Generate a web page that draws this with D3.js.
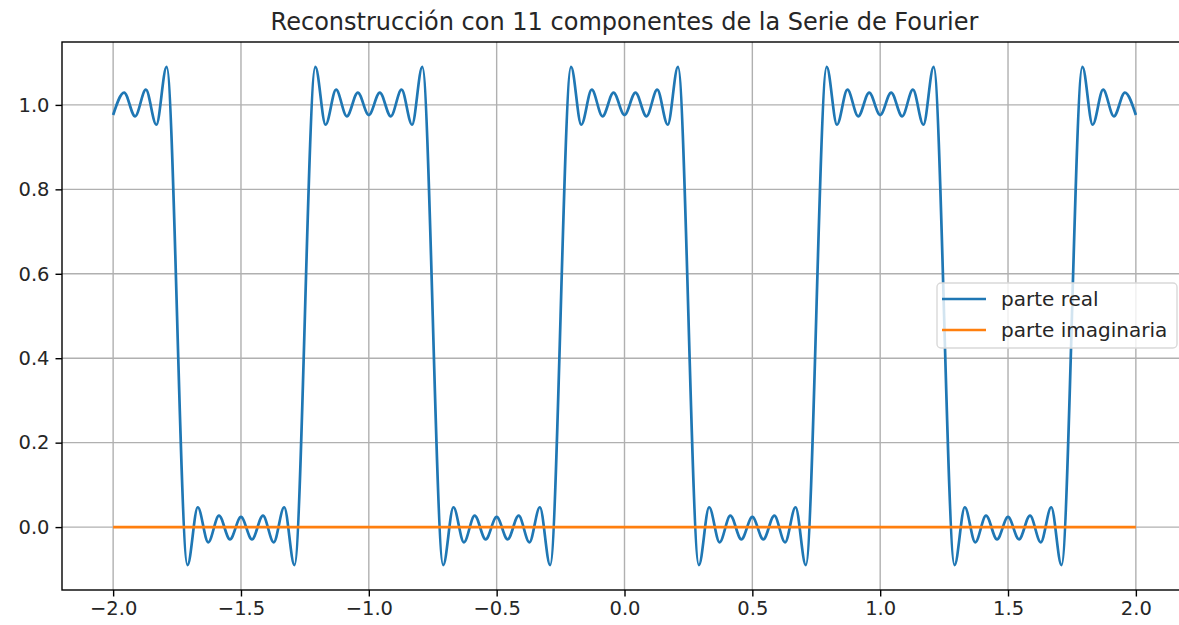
<!DOCTYPE html>
<html>
<head>
<meta charset="utf-8">
<script src="https://cdnjs.cloudflare.com/ajax/libs/d3/7.8.5/d3.min.js"></script>
<style>
  body { margin: 0; background: #fff; }
  text { font-family: "DejaVu Sans", sans-serif; fill: #262626; }
</style>
</head>
<body>
<div id="chart"></div>
<script>
var w = 1179, h = 625;

var title = "Reconstrucción con 11 componentes de la Serie de Fourier";
var seriesNames = ["parte real", "parte imaginaria"];
var xTicks = [-2.0, -1.5, -1.0, -0.5, 0.0, 0.5, 1.0, 1.5, 2.0];
var yTicks = [0.0, 0.2, 0.4, 0.6, 0.8, 1.0];

// turning points of the real part
var realX = [
  -2.000, -1.957, -1.914, -1.872, -1.831, -1.791,
  -1.709, -1.669, -1.628, -1.586, -1.543, -1.500, -1.457, -1.414, -1.372, -1.331, -1.291,
  -1.209, -1.169, -1.128, -1.086, -1.043, -1.000, -0.957, -0.914, -0.872, -0.831, -0.791,
  -0.709, -0.669, -0.628, -0.586, -0.543, -0.500, -0.457, -0.414, -0.372, -0.331, -0.291,
  -0.209, -0.169, -0.128, -0.086, -0.043, 0.000, 0.043, 0.086, 0.128, 0.169, 0.209,
  0.291, 0.331, 0.372, 0.414, 0.457, 0.500, 0.543, 0.586, 0.628, 0.669, 0.709,
  0.791, 0.831, 0.872, 0.914, 0.957, 1.000, 1.043, 1.086, 1.128, 1.169, 1.209,
  1.291, 1.331, 1.372, 1.414, 1.457, 1.500, 1.543, 1.586, 1.628, 1.669, 1.709,
  1.791, 1.831, 1.872, 1.914, 1.957, 2.000
];
var realY = [
  0.976, 1.029, 0.973, 1.036, 0.953, 1.090,
  -0.090, 0.047, -0.036, 0.027, -0.029, 0.024, -0.029, 0.027, -0.036, 0.047, -0.090,
  1.090, 0.953, 1.036, 0.973, 1.029, 0.976, 1.029, 0.973, 1.036, 0.953, 1.090,
  -0.090, 0.047, -0.036, 0.027, -0.029, 0.024, -0.029, 0.027, -0.036, 0.047, -0.090,
  1.090, 0.953, 1.036, 0.973, 1.029, 0.976, 1.029, 0.973, 1.036, 0.953, 1.090,
  -0.090, 0.047, -0.036, 0.027, -0.029, 0.024, -0.029, 0.027, -0.036, 0.047, -0.090,
  1.090, 0.953, 1.036, 0.973, 1.029, 0.976, 1.029, 0.973, 1.036, 0.953, 1.090,
  -0.090, 0.047, -0.036, 0.027, -0.029, 0.024, -0.029, 0.027, -0.036, 0.047, -0.090,
  1.090, 0.953, 1.036, 0.973, 1.029, 0.976
];
var imagX = [-2.0, 2.0];
var imagY = [0.0, 0.0];

var colors = ["#1f77b4", "#ff7f0e"];

// plot box (right edge falls just past the window, as in the original)
var padL = 62, padR = 1187, padT = 42, padB = 590;

var x = d3.scaleLinear().domain([-2.2, 2.2]).range([padL, padR]);
var y = d3.scaleLinear().domain([-0.149, 1.149]).range([padB, padT]);

var svg = d3.select("#chart")
  .append("svg")
    .attr("width", w)
    .attr("height", h);

svg.append("clipPath")
    .attr("id", "plotclip")
  .append("rect")
    .attr("x", padL).attr("y", padT)
    .attr("width", padR - padL).attr("height", padB - padT);

// grid
svg.append("g").selectAll("line")
    .data(xTicks)
  .enter().append("line")
    .attr("x1", function(d) { return x(d); })
    .attr("x2", function(d) { return x(d); })
    .attr("y1", padT).attr("y2", padB)
    .attr("stroke", "#b0b0b0").attr("stroke-width", 1.4);

svg.append("g").selectAll("line")
    .data(yTicks)
  .enter().append("line")
    .attr("y1", function(d) { return y(d); })
    .attr("y2", function(d) { return y(d); })
    .attr("x1", padL).attr("x2", padR)
    .attr("stroke", "#b0b0b0").attr("stroke-width", 1.4);

var line = d3.line()
  .x(function(d) { return x(d[0]); })
  .y(function(d) { return y(d[1]); })
  .curve(d3.curveMonotoneX);

var plot = svg.append("g").attr("clip-path", "url(#plotclip)");

plot.append("path")
    .datum(d3.zip(realX, realY))
    .attr("d", line)
    .attr("fill", "none")
    .attr("stroke", colors[0])
    .attr("stroke-width", 2.7)
    .attr("stroke-linejoin", "round");

plot.append("path")
    .datum(d3.zip(imagX, imagY))
    .attr("d", line)
    .attr("fill", "none")
    .attr("stroke", colors[1])
    .attr("stroke-width", 2.7);

// axes
var xAxis = d3.axisBottom(x)
  .tickValues(xTicks)
  .tickSize(6.5)
  .tickPadding(5)
  .tickFormat(function(d) { return d3.format(".1f")(d).replace("-", "\u2212"); });

var yAxis = d3.axisLeft(y)
  .tickValues(yTicks)
  .tickSize(6.5)
  .tickPadding(6)
  .tickFormat(d3.format(".1f"));

svg.append("g")
    .attr("transform", "translate(0," + padB + ")")
    .call(xAxis)
    .call(function(g) { g.select(".domain").remove(); });

svg.append("g")
    .attr("transform", "translate(" + padL + ",0)")
    .call(yAxis)
    .call(function(g) { g.select(".domain").remove(); });

svg.selectAll(".tick line").attr("stroke", "#000").attr("stroke-width", 1.4);
svg.selectAll(".tick text")
    .attr("font-family", "DejaVu Sans")
    .attr("font-size", 19.5)
    .attr("fill", "#262626");

svg.append("rect")
    .attr("x", padL).attr("y", padT)
    .attr("width", padR - padL).attr("height", padB - padT)
    .attr("fill", "none")
    .attr("stroke", "#000")
    .attr("stroke-width", 1.4);

svg.append("text")
    .attr("x", (padL + padR) / 2)
    .attr("y", 30)
    .attr("text-anchor", "middle")
    .attr("font-size", 24)
    .text(title);

// legend
var legend = svg.append("g");
legend.append("rect")
    .attr("x", 937).attr("y", 283)
    .attr("width", 240).attr("height", 65)
    .attr("rx", 4)
    .attr("fill", "#fff").attr("fill-opacity", 0.8)
    .attr("stroke", "#d9d9d9").attr("stroke-width", 1.4);

var items = legend.selectAll("g.item")
    .data(seriesNames)
  .enter().append("g")
    .attr("class", "item")
    .attr("transform", function(d, i) { return "translate(0," + (299 + i * 31) + ")"; });

items.append("line")
    .attr("x1", 942).attr("x2", 986)
    .attr("stroke", function(d, i) { return colors[i]; })
    .attr("stroke-width", 2.7);

items.append("text")
    .attr("x", 1001)
    .attr("dy", "0.35em")
    .attr("font-size", 20)
    .text(function(d) { return d; });
</script>
</body>
</html>
